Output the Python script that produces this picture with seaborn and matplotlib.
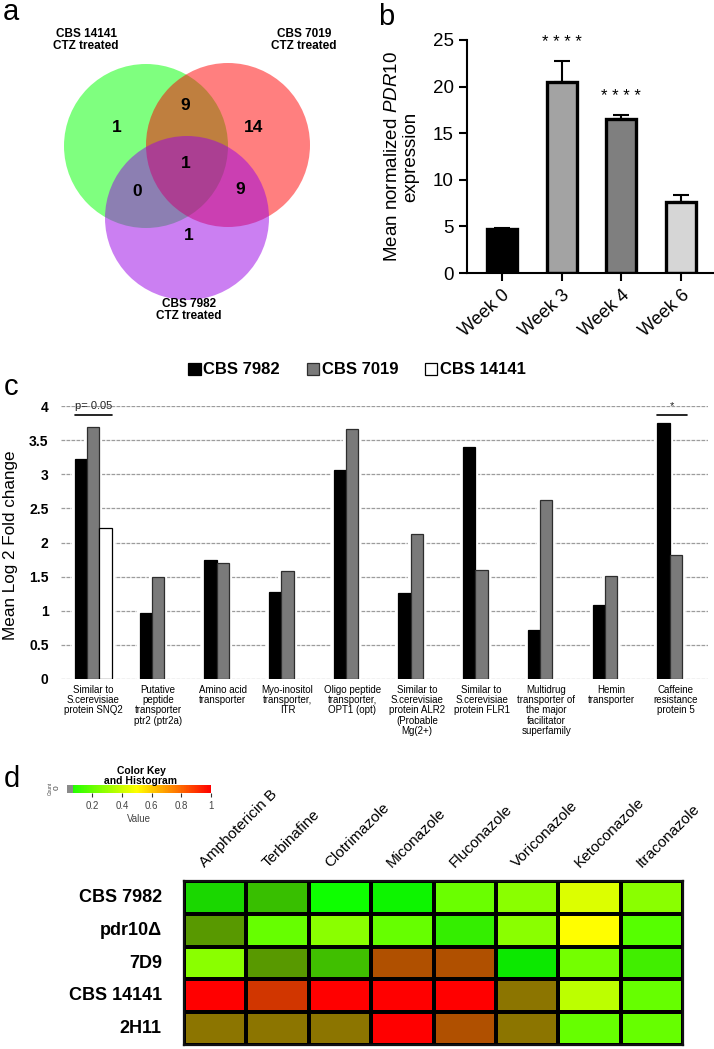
import numpy as np
import pandas as pd
import seaborn as sns
import matplotlib.pyplot as plt
import matplotlib.transforms as mtransforms
from matplotlib.patches import Circle, Patch, Rectangle
from matplotlib.colors import LinearSegmentedColormap

# ---- data -------------------------------------------------------------
# a: Venn counts (regions: 14141 / 7019 / 7982 membership)
venn_sets = ["CBS 14141\nCTZ treated", "CBS 7019\nCTZ treated", "CBS 7982\nCTZ treated"]
venn_regions = ["100", "010", "001", "110", "101", "011", "111"]
venn_counts = [1, 14, 1, 9, 0, 9, 1]

# b: PDR10 expression
weeks = ["Week 0", "Week 3", "Week 4", "Week 6"]
pdr10_mean = [4.7, 20.5, 16.5, 7.6]
pdr10_err = [0.15, 2.2, 0.4, 0.75]
pdr10_stars = ["", "****", "****", ""]

# c: mean log2 fold change of transporters
genes = [
    "Similar to\nS.cerevisiae\nprotein SNQ2",
    "Putative\npeptide\ntransporter\nptr2 (ptr2a)",
    "Amino acid\ntransporter",
    "Myo-inositol\ntransporter,\nITR",
    "Oligo peptide\ntransporter,\nOPT1 (opt)",
    "Similar to\nS.cerevisiae\nprotein ALR2\n(Probable\nMg(2+)",
    "Similar to\nS.cerevisiae\nprotein FLR1",
    "Multidrug\ntransporter of\nthe major\nfacilitator\nsuperfamily",
    "Hemin\ntransporter",
    "Caffeine\nresistance\nprotein 5",
]
strains_c = ["CBS 7982", "CBS 7019", "CBS 14141"]
fc_7982 = [3.22, 0.96, 1.75, 1.27, 3.07, 1.26, 3.40, 0.71, 1.08, 3.75]
fc_7019 = [3.70, 1.50, 1.70, 1.58, 3.67, 2.12, 1.60, 2.63, 1.51, 1.82]
fc_14141 = [2.22, np.nan, np.nan, np.nan, np.nan, np.nan, np.nan, np.nan, np.nan, np.nan]

# d: drug susceptibility heatmap (value + darkening of cell)
strains_d = ["CBS 7982", "pdr10\u0394", "7D9", "CBS 14141", "2H11"]
drugs = ["Amphotericin B", "Terbinafine", "Clotrimazole", "Miconazole",
         "Fluconazole", "Voriconazole", "Ketoconazole", "Itraconazole"]
mic_value = [
    [0.065, 0.15, 0.03, 0.03, 0.21, 0.27, 0.43, 0.27],
    [0.29, 0.20, 0.27, 0.20, 0.11, 0.27, 0.50, 0.17],
    [0.27, 0.29, 0.17, 0.77, 0.77, 0.03, 0.23, 0.14],
    [1.00, 0.87, 1.00, 1.00, 1.00, 0.58, 0.37, 0.20],
    [0.58, 0.58, 0.58, 1.00, 0.77, 0.58, 0.20, 0.20],
]
mic_shade = [
    [0.16, 0.25, 0.00, 0.04, 0.00, 0.00, 0.00, 0.00],
    [0.40, 0.00, 0.00, 0.00, 0.07, 0.00, 0.00, 0.00],
    [0.00, 0.40, 0.25, 0.31, 0.31, 0.09, 0.00, 0.07],
    [0.00, 0.18, 0.00, 0.00, 0.00, 0.45, 0.00, 0.00],
    [0.45, 0.45, 0.45, 0.00, 0.31, 0.45, 0.00, 0.00],
]

# ---- style ------------------------------------------------------------
sns.set_theme(style="white")
plt.rcParams["font.family"] = ["Liberation Sans", "DejaVu Sans"]
plt.rcParams["mathtext.fontset"] = "custom"
plt.rcParams["mathtext.rm"] = "Liberation Sans"
plt.rcParams["mathtext.it"] = "Liberation Sans:italic"
plt.rcParams["text.color"] = "black"
plt.rcParams["axes.labelcolor"] = "black"
plt.rcParams["xtick.color"] = "black"
plt.rcParams["ytick.color"] = "black"

W, H = 714, 1049
fig = plt.figure(figsize=(W / 100, H / 100), dpi=100)


def px_axes(left, top, right, bottom):
    return fig.add_axes([left / W, 1 - bottom / H, (right - left) / W, (bottom - top) / H])


# panel letters
for letter, (x, y) in zip("abcd", [(3, 20), (378, 25), (4, 395), (4, 787)]):
    fig.text(x / W, 1 - y / H, letter, fontsize=21, va="baseline", ha="left")

# ---- a: Venn ----------------------------------------------------------
ax_a = px_axes(0, 0, 360, 330)
ax_a.set_xlim(0, 360)
ax_a.set_ylim(330, 0)
ax_a.axis("off")
venn_colors = ["#00ff00", "#ff0000", "#9900e6"]
circle_centres = [(146, 146), (228, 145), (187, 218)]
set_label_pos = [(86, 40), (304, 40), (189, 310)]
region_pos = {"100": (117, 128), "010": (254, 127), "001": (189, 235),
              "110": (185, 106), "101": (137, 192), "011": (240, 190), "111": (186, 163)}
for (cx, cy), col in zip(circle_centres, venn_colors):
    ax_a.add_patch(Circle((cx, cy), 82, facecolor=col, alpha=0.5, lw=0))
for lab, (x, y) in zip(venn_sets, set_label_pos):
    ax_a.text(x, y, lab, ha="center", va="center", fontsize=8.5, weight="bold", linespacing=1.1)
for reg, n in zip(venn_regions, venn_counts):
    x, y = region_pos[reg]
    ax_a.text(x, y, str(n), ha="center", va="center", fontsize=12.5, weight="bold")

# ---- b: PDR10 bars ----------------------------------------------------
ax_b = px_axes(467, 40, 713, 273)
week_colors = ["#000000", "#a3a3a3", "#7f7f7f", "#d6d6d6"]
sns.barplot(x=weeks, y=pdr10_mean, hue=weeks, palette=week_colors, width=0.5,
            edgecolor="black", linewidth=2.4, saturation=1, legend=False, ax=ax_b)
ax_b.errorbar(np.arange(len(weeks)), pdr10_mean, yerr=[np.zeros(len(weeks)), pdr10_err],
              fmt="none", ecolor="black", elinewidth=1.5, capsize=6, capthick=1.5, zorder=1)
for i, (m, e, s) in enumerate(zip(pdr10_mean, pdr10_err, pdr10_stars)):
    if s:
        ax_b.text(i, m + e + 2.0, " ".join(s), ha="center", va="center", fontsize=12)
ax_b.set_xlim(-0.58, 3.53)
ax_b.set_ylim(0, 25)
ax_b.set_yticks([0, 5, 10, 15, 20, 25])
sns.despine(ax=ax_b)
for sp in ["left", "bottom"]:
    ax_b.spines[sp].set_linewidth(1.5)
    ax_b.spines[sp].set_color("black")
ax_b.tick_params(axis="both", which="major", direction="out", length=6, width=1.5,
                 labelsize=13.5, bottom=True, left=True)
ax_b.set_xticks(range(len(weeks)))
ax_b.set_xticklabels(weeks, rotation=42, ha="right", rotation_mode="anchor", fontsize=13)
ax_b.set_xlabel("")
ax_b.set_ylabel("Mean normalized $\\mathit{PDR10}$\nexpression", fontsize=13.5, linespacing=1.1)
ax_b.yaxis.set_label_coords(-0.195, 0.5)

# ---- c: fold-change bars ----------------------------------------------
ax_c = px_axes(61, 406, 708, 679)
rows = []
for strain, vals in zip(strains_c, [fc_7982, fc_7019, fc_14141]):
    for g, v in zip(genes, vals):
        if not np.isnan(v):
            rows.append((g, strain, v))
df_c = pd.DataFrame(rows, columns=["gene", "strain", "log2fc"])
strain_colors = {"CBS 7982": "#000000", "CBS 7019": "#7a7a7a", "CBS 14141": "#ffffff"}
strain_edges = ["#000000", "#2e2e2e", "#000000"]
sns.barplot(data=df_c, x="gene", y="log2fc", hue="strain", order=genes, hue_order=strains_c,
            palette=strain_colors, width=0.57, saturation=1, errorbar=None, legend=False, ax=ax_c)
# white halo behind the bars so the grid stops short of them
for cont, ec in zip(ax_c.containers, strain_edges):
    for bar in cont:
        bar.set_edgecolor(ec)
        bar.set_linewidth(0.9)
        bar.set_zorder(3)
        halo = Rectangle(bar.get_xy(), bar.get_width(), bar.get_height(),
                         facecolor="white", edgecolor="white", lw=4.5, zorder=2)
        ax_c.add_patch(halo)
ax_c.set_axisbelow(True)
ax_c.yaxis.grid(True, color="#9c9c9c", lw=0.9, ls=(0, (3, 1)))
ax_c.xaxis.grid(False)
for sp in ax_c.spines.values():
    sp.set_visible(False)
ax_c.set_ylim(-0.006, 4.006)
ax_c.set_xlim(-0.5, len(genes) - 0.5)
yt = np.arange(0, 4.01, 0.5)
ax_c.set_yticks(yt)
ax_c.set_yticklabels([f"{v:g}" for v in yt], fontsize=10, weight="bold")
ax_c.set_xticks(range(len(genes)))
ax_c.set_xticklabels(genes, fontsize=7, linespacing=1.05,
                     family=["Liberation Sans Narrow", "Liberation Sans", "DejaVu Sans"])
ax_c.tick_params(axis="x", length=0, pad=4)
ax_c.tick_params(axis="y", length=0, pad=9)
ax_c.set_xlabel("")
ax_c.set_ylabel("Mean Log 2 Fold change", fontsize=12.3)
ax_c.yaxis.set_label_coords(-0.066, 0.49)

# significance marks
sig_marks = [(0, "p= 0.05", -0.285, 0.285, 8), (9, "*", -0.29, 0.17, 8)]
for g, lab, x0, x1, fs in sig_marks:
    ax_c.plot([g + x0, g + x1], [3.88, 3.88], color="black", lw=1.2, clip_on=False, zorder=4)
    ax_c.text(g + (x0 + x1) / 2, 4.0, lab, ha="center", va="center", fontsize=fs,
              color="#222222", clip_on=False)

legend_handles = [Patch(facecolor=strain_colors[s], edgecolor=ec, lw=0.9)
                  for s, ec in zip(strains_c, strain_edges)]
ax_c.legend(legend_handles, strains_c, loc="center", bbox_to_anchor=(357 / W, 1 - 370 / H),
            bbox_transform=fig.transFigure, ncol=3, frameon=False, handlelength=0.75,
            handleheight=0.75, handletextpad=0.15, columnspacing=1.6,
            prop={"weight": "bold", "size": 12})

# ---- d: heatmap -------------------------------------------------------
ax_d = px_axes(184, 881, 683, 1045)
gyr = LinearSegmentedColormap.from_list("gyr", ["#00ff00", "#ffff00", "#ff0000"])
shade_cmap = LinearSegmentedColormap.from_list("shade", [(0, 0, 0, 0), (0, 0, 0, 1)])
sns.heatmap(np.array(mic_value), cmap=gyr, vmin=0, vmax=1, cbar=False, ax=ax_d,
            xticklabels=drugs, yticklabels=strains_d)
sns.heatmap(np.array(mic_shade), cmap=shade_cmap, vmin=0, vmax=1, cbar=False, ax=ax_d,
            linewidths=1.6, linecolor="black", xticklabels=drugs, yticklabels=strains_d)
for sp in ax_d.spines.values():
    sp.set_visible(True)
    sp.set_linewidth(1.6)
    sp.set_color("#111111")
ax_d.xaxis.tick_top()
ax_d.set_xticklabels(drugs, rotation=45, ha="left", va="bottom", rotation_mode="anchor", fontsize=11)
ax_d.set_yticklabels(strains_d, rotation=0, fontsize=13, weight="bold")
ax_d.tick_params(axis="x", length=0, pad=8)
ax_d.tick_params(axis="y", length=0, pad=16)
shift = mtransforms.ScaledTranslation(-8 / 100, 0, fig.dpi_scale_trans)
for lab in ax_d.get_xticklabels():
    lab.set_transform(lab.get_transform() + shift)

# colour key
cax = px_axes(67, 785, 211, 793)
cb = fig.colorbar(ax_d.collections[0], cax=cax, orientation="horizontal",
                  boundaries=np.linspace(0.03, 1.0, 200))
cb.outline.set_visible(False)
cax.axvspan(0.03, 0.07, color="#8a8a8a", lw=0)
cb.set_ticks([0.2, 0.4, 0.6, 0.8, 1.0], labels=["0.2", "0.4", "0.6", "0.8", "1"])
cax.tick_params(axis="x", labelsize=7, length=3, width=0.8, color="#333333",
                labelcolor="#444444", pad=3)
cb.set_label("Value", fontsize=7, color="#444444", labelpad=2)
fig.text(141 / W, 1 - 776 / H, "Color Key\nand Histogram", ha="center", va="center",
         fontsize=7.5, weight="bold", linespacing=0.95)
fig.text(50 / W, 1 - 788 / H, "Count", rotation=90, ha="center", va="center",
         fontsize=3.5, color="#444444")
fig.text(57 / W, 1 - 788 / H, "0", rotation=90, ha="center", va="center",
         fontsize=6, color="#444444")

fig.savefig("out.png", dpi=100, facecolor="white")
